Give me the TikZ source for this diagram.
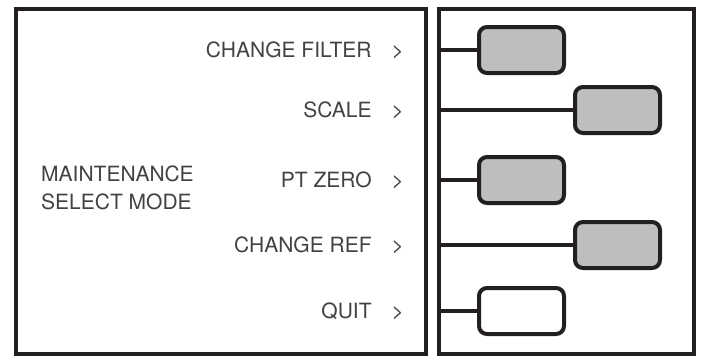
\documentclass[tikz,border=0pt]{standalone}
\usepackage{fontspec}
\setmainfont{TeX Gyre Heros}
\usetikzlibrary{positioning}
\definecolor{KeyGray}{HTML}{BDBEC0}
\definecolor{KeyDark}{HTML}{231F20}

\begin{document}
\begin{tikzpicture}[x=1pt,y=-1pt,
    panel/.style={draw=KeyDark,line width=4pt,inner sep=0pt,
                  minimum height=345pt},
    key/.style={rounded corners=8pt,draw=KeyDark,fill=KeyGray,
                line width=4pt,inner sep=0pt,
                minimum width=85pt,minimum height=46pt},
    link/.style={KeyDark,line width=3.5pt},
    item/.style={font=\fontsize{21}{28}\selectfont,text=KeyDark!85,
                 anchor=east,inner sep=0pt}]

    \useasboundingbox (0,0) rectangle (704,360);

    % display panels
    \node[panel,minimum width=410pt] (menu) at (221,181.5) {};
    \node[panel,minimum width=255pt] (keys) at (566,181.5) {};

    % menu entries
    \node[item] (filter) at (404,50) {CHANGE FILTER\hspace{0.95em}>};
    \node[item] (scale)  at (404,110) {SCALE\hspace{0.95em}>};
    \node[item] (zero)   at (404,180) {PT ZERO\hspace{0.95em}>};
    \node[item] (ref)    at (404,245) {CHANGE REF\hspace{0.95em}>};
    \node[item] (quit)   at (404,311) {QUIT\hspace{0.95em}>};

    \node[item,anchor=west,align=left] (mode) at (41,188)
      {MAINTENANCE\\SELECT MODE};

    % soft keys
    \node[key] (kfilter) at (521.5,50) {};
    \node[key] (kscale)  at (617.5,110) {};
    \node[key] (kzero)   at (521.5,180) {};
    \node[key] (kref)    at (617.5,245) {};
    \node[key,fill=white] (kquit) at (521.5,311) {};

    \draw[link] (keys.west |- kfilter) -- (kfilter.west);
    \draw[link] (keys.west |- kscale) -- (kscale.west);
    \draw[link] (keys.west |- kzero) -- (kzero.west);
    \draw[link] (keys.west |- kref) -- (kref.west);
    \draw[link] (keys.west |- kquit) -- (kquit.west);
  \end{tikzpicture}
\end{document}
